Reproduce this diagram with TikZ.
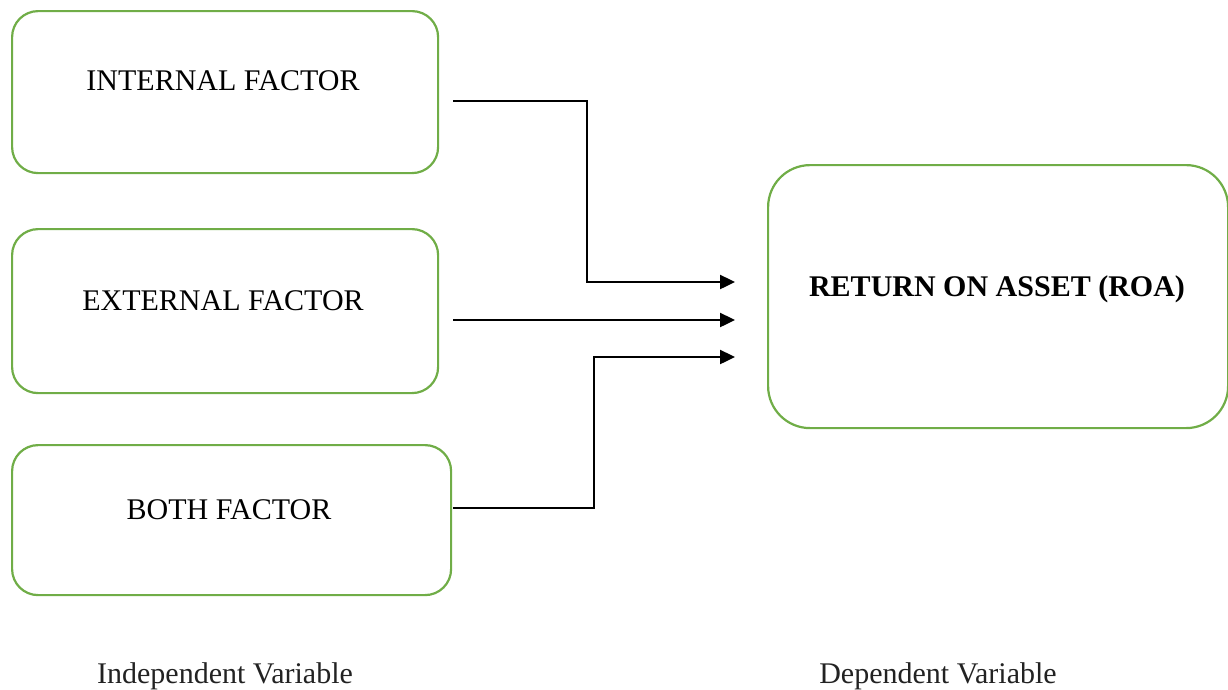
\documentclass[tikz,border=0pt]{standalone}
\usepackage{fontspec}
\setmainfont{Liberation Serif}
\usetikzlibrary{arrows.meta}
\definecolor{boxgreen}{HTML}{70AD47}
\definecolor{labelgray}{HTML}{222222}
\tikzset{
  factorbox/.style={draw=boxgreen, line width=2.2pt, rounded corners=26pt, anchor=north west, inner sep=0pt},
  boxtext/.style={anchor=base, inner sep=0pt, font=\fontsize{30}{36}\selectfont},
  captext/.style={anchor=base, inner sep=0pt, text=labelgray, font=\fontsize{30}{36}\selectfont},
  conn/.style={line width=2.4pt, -{Triangle[length=15pt,width=14pt]}}
}
\begin{document}
\begin{tikzpicture}[x=1pt,y=-1pt]
\useasboundingbox (0,0) rectangle (1228,689);
% boxes
\node[factorbox, minimum width=426pt, minimum height=162pt] (b1) at (11,10) {};
\node[factorbox, minimum width=426pt, minimum height=164pt] (b2) at (11,228) {};
\node[factorbox, minimum width=439pt, minimum height=150pt] (b3) at (11,444) {};
\node[factorbox, rounded corners=42pt, minimum width=460pt, minimum height=263pt] (roa) at (767,164) {};
% texts
\node[boxtext] (t1) at (223,90) {INTERNAL FACTOR};
\node[boxtext] (t2) at (223,310) {EXTERNAL FACTOR};
\node[boxtext] (t3) at (229,519) {BOTH FACTOR};
\node[boxtext] (t4) at (997,296) {\bfseries RETURN ON ASSET (ROA)};
\node[captext] (c1) at (225,683) {Independent Variable};
\node[captext] (c2) at (938,683) {Dependent Variable};
% connector ends
\coordinate (s1) at ([xshift=14pt]b1.east |- 0,101);
\coordinate (s2) at ([xshift=14pt]b2.east |- 0,320);
\coordinate (s3) at ([xshift=1pt]b3.east |- 0,508);
\coordinate (e1) at ([xshift=-32pt]roa.west |- 0,282);
\coordinate (e2) at ([xshift=-32pt]roa.west |- 0,320);
\coordinate (e3) at ([xshift=-32pt]roa.west |- 0,357);
\coordinate (k1) at (587,0);
\coordinate (k3) at (594,0);
% connectors
\draw[conn] (s1) -- (k1 |- s1) -- (k1 |- e1) -- (e1);
\draw[conn] (s2) -- (e2);
\draw[conn] (s3) -- (k3 |- s3) -- (k3 |- e3) -- (e3);
\end{tikzpicture}
\end{document}
